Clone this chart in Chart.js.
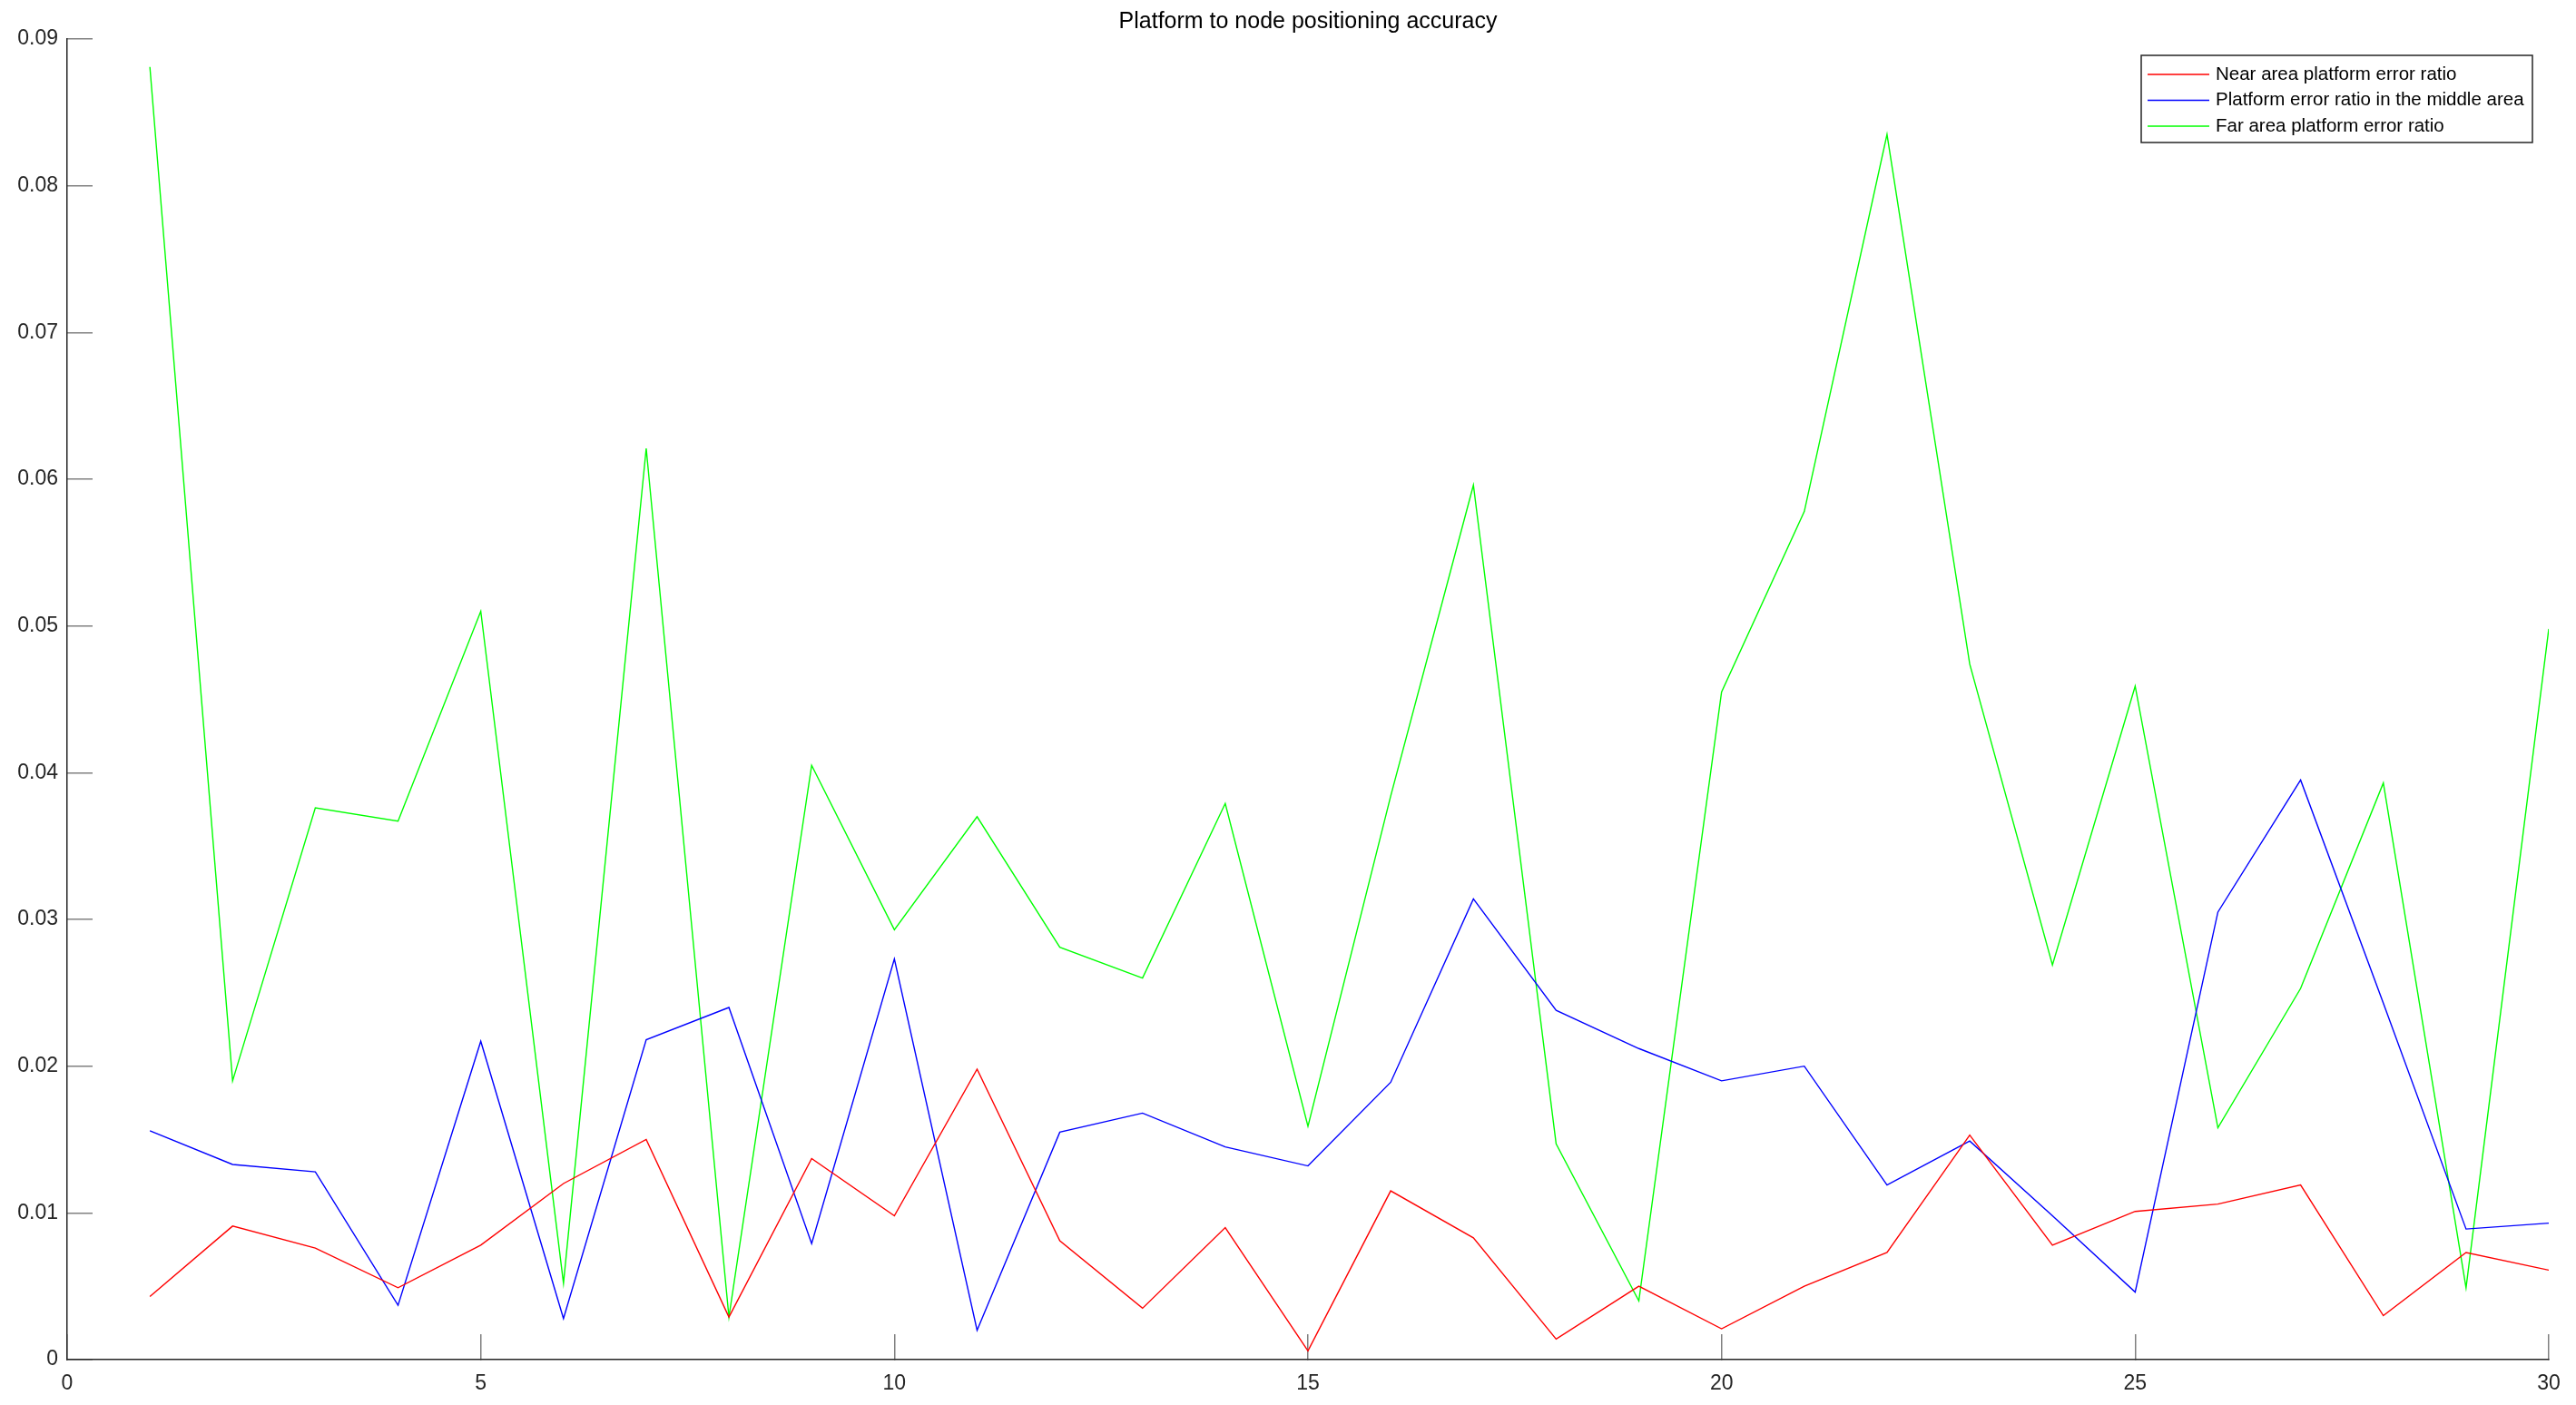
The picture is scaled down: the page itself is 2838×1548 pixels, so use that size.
<!DOCTYPE html>
<html>
<head>
<meta charset="utf-8">
<script src="https://cdn.jsdelivr.net/npm/chart.js@4"></script>
<style>
  html, body { margin: 0; padding: 0; background: #fff; }
  #wrap { width: 2838px; height: 1548px; }
</style>
</head>
<body>
<div id="wrap"><canvas id="acc"></canvas></div>
<script>
'use strict'

var steps = [1, 2, 3, 4, 5, 6, 7, 8, 9, 10, 11, 12, 13, 14, 15,
  16, 17, 18, 19, 20, 21, 22, 23, 24, 25, 26, 27, 28, 29, 30];

var nearArea = [
  0.0043, 0.0091, 0.0076, 0.0049, 0.0078, 0.0120, 0.0150, 0.0029, 0.0137, 0.0098,
  0.0198, 0.0081, 0.0035, 0.0090, 0.0006, 0.0115, 0.0083, 0.0014, 0.0050, 0.0021,
  0.0050, 0.0073, 0.0153, 0.0078, 0.0101, 0.0106, 0.0119, 0.0030, 0.0073, 0.0061];

var middleArea = [
  0.0156, 0.0133, 0.0128, 0.0037, 0.0217, 0.0028, 0.0218, 0.0240, 0.0079, 0.0273,
  0.0020, 0.0155, 0.0168, 0.0145, 0.0132, 0.0189, 0.0314, 0.0238, 0.0212, 0.0190,
  0.0200, 0.0119, 0.0149, 0.0098, 0.0046, 0.0305, 0.0395, 0.0243, 0.0089, 0.0093];

var farArea = [
  0.0881, 0.0190, 0.0376, 0.0367, 0.0510, 0.0052, 0.0621, 0.0029, 0.0405, 0.0293,
  0.0370, 0.0281, 0.0260, 0.0379, 0.0159, 0.0384, 0.0596, 0.0147, 0.0040, 0.0455,
  0.0578, 0.0835, 0.0474, 0.0269, 0.0459, 0.0158, 0.0253, 0.0393, 0.0049, 0.0498];

var seriesNames = [
  'Near area platform error ratio',
  'Platform error ratio in the middle area',
  'Far area platform error ratio'];

var xTicks = [0, 5, 10, 15, 20, 25, 30];
var yTicks = [0, 0.01, 0.02, 0.03, 0.04, 0.05, 0.06, 0.07, 0.08, 0.09];

function pts(vals) {
  return vals.map(function (v, i) { return {x: steps[i], y: v}; });
}

function line(label, vals, color) {
  return {
    label: label,
    data: pts(vals),
    borderColor: color,
    backgroundColor: color,
    borderWidth: 1.4,
    pointRadius: 0,
    tension: 0,
    fill: false
  };
}

// legend box drawn in the top right like matlab does
var boxLegend = {
  id: 'boxLegend',
  afterDraw: function (chart) {
    var c = chart.ctx;
    var x0 = 2359, y0 = 61, w = 431, h = 96;
    c.save();
    c.fillStyle = '#fff';
    c.fillRect(x0, y0, w, h);
    c.strokeStyle = '#262626';
    c.lineWidth = 1.5;
    c.strokeRect(x0, y0, w, h);
    c.font = '20.5px "Liberation Sans", Arial, sans-serif';
    c.textBaseline = 'middle';
    chart.data.datasets.forEach(function (ds, i) {
      var y = y0 + 21 + i * 28.5;
      c.strokeStyle = ds.borderColor;
      c.lineWidth = 1.5;
      c.beginPath();
      c.moveTo(x0 + 7, y);
      c.lineTo(x0 + 75, y);
      c.stroke();
      c.fillStyle = '#000';
      c.fillText(ds.label, x0 + 82, y);
    });
    c.restore();
  }
};

var tickFont = {family: '"Liberation Sans", Arial, sans-serif', size: 23};

var ctx = document.getElementById('acc');
var mychart = new Chart(ctx, {
  type: 'line',
  data: {
    datasets: [
      line(seriesNames[0], nearArea, '#ff0000'),
      line(seriesNames[1], middleArea, '#0000ff'),
      line(seriesNames[2], farArea, '#00ff00')
    ]
  },
  options: {
    responsive: true,
    maintainAspectRatio: false,
    animation: false,
    layout: {padding: {left: 0, right: 30, top: 0, bottom: 0}},
    plugins: {
      legend: {display: false},
      tooltip: {enabled: false},
      title: {
        display: true,
        fullSize: false,
        text: 'Platform to node positioning accuracy',
        color: '#000',
        font: {family: '"Liberation Sans", Arial, sans-serif', size: 25, weight: 'normal'},
        padding: {top: 9, bottom: 4}
      }
    },
    scales: {
      x: {
        type: 'linear',
        min: 0,
        max: 30,
        afterBuildTicks: function (s) { s.ticks = xTicks.map(function (v) { return {value: v}; }); },
        afterFit: function (s) { s.height = 50; s.paddingLeft = 0; s.paddingRight = 0; },
        ticks: {color: '#262626', font: tickFont, padding: 41, maxRotation: 0},
        grid: {drawOnChartArea: false, drawTicks: true, tickLength: -28, color: '#808080', lineWidth: 1.5},
        border: {display: true, color: '#262626', width: 1.5}
      },
      y: {
        type: 'linear',
        min: 0,
        max: 0.09,
        afterBuildTicks: function (s) { s.ticks = yTicks.map(function (v) { return {value: v}; }); },
        afterFit: function (s) { s.width = 74; s.paddingTop = 0; s.paddingBottom = 0; },
        ticks: {
          color: '#262626',
          font: tickFont,
          padding: 38,
          callback: function (v) { return v === 0 ? '0' : v.toFixed(2); }
        },
        grid: {drawOnChartArea: false, drawTicks: true, tickLength: -28, color: '#808080', lineWidth: 1.5},
        border: {display: true, color: '#262626', width: 1.5}
      }
    }
  },
  plugins: [boxLegend]
});
</script>
</body>
</html>
